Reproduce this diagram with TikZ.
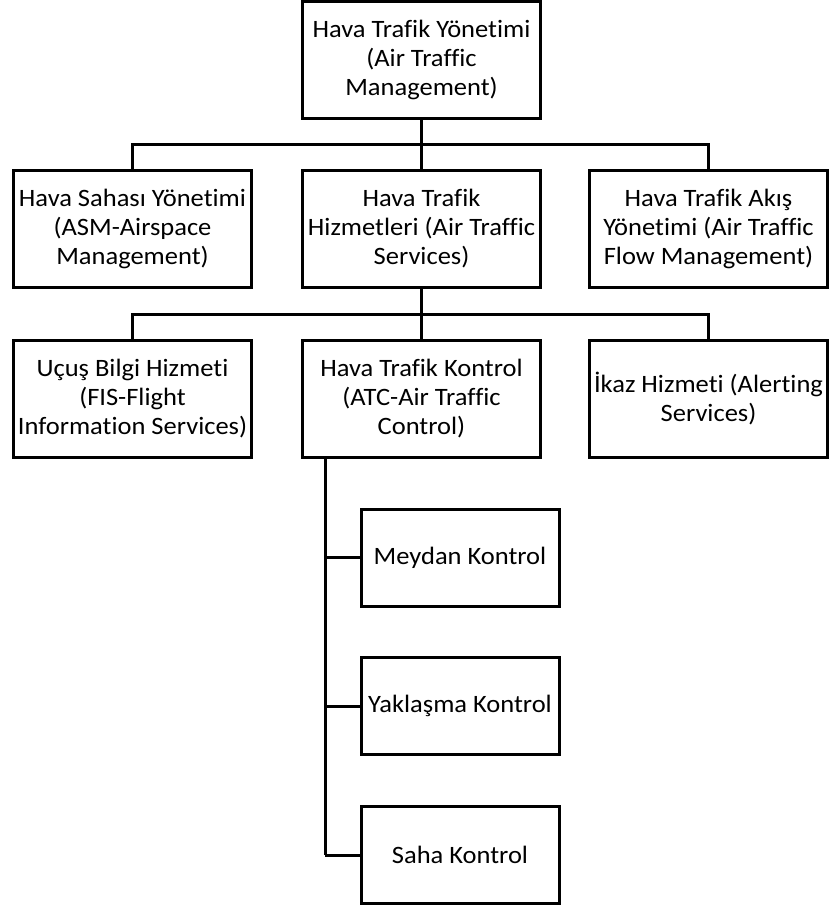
\documentclass[tikz,border=0pt]{standalone}
\usepackage{fontspec}
\setmainfont{Carlito}[FakeStretch=1.06,Ligatures=NoCommon]
\tikzset{
  unit/.style={draw, line width=3pt, align=center, minimum width=238pt, minimum height=117pt,
    inner sep=0pt, font=\fontsize{25}{29}\selectfont},
  subunit/.style={unit, minimum width=198pt, minimum height=97pt},
  link/.style={line width=3pt}
}
\begin{document}
\begin{tikzpicture}[x=1pt,y=-1pt]
\useasboundingbox (0,0) rectangle (829,906);
% top of the tree
\node[unit] (atm) at (421.5,60) {Hava Trafik Yönetimi\\(Air Traffic\\Management)};
% second row
\node[unit] (asm) at (132.5,229) {Hava Sahası Yönetimi\\(ASM-Airspace\\Management)};
\node[unit] (ats) at (421.5,229) {Hava Trafik\\Hizmetleri (Air Traffic\\Services)};
\node[unit] (atfm) at (708.5,229) {Hava Trafik Akış\\Yönetimi (Air Traffic\\Flow Management)};
% third row
\node[unit] (fis) at (132.5,398.5) {Uçuş Bilgi Hizmeti\\(FIS-Flight\\Information Services)};
\node[unit] (atc) at (421.5,398.5) {Hava Trafik Kontrol\\(ATC-Air Traffic\\Control)};
\node[unit] (alrt) at (708.5,398.5) {İkaz Hizmeti (Alerting\\Services)};
% units under ATC
\node[subunit] (twr) at (460,557.5) {Meydan Kontrol};
\node[subunit] (app) at (460,706) {Yaklaşma Kontrol};
\node[subunit] (acc) at (460,855) {Saha Kontrol};
% connectors
\coordinate (bar1) at (421.5,144);
\coordinate (bar2) at (421.5,314);
\coordinate (trunk) at (325,855);
\draw[link] (asm.north) |- (bar1) -| (atfm.north);
\draw[link] (atm.south) -- (ats.north);
\draw[link] (fis.north) |- (bar2) -| (alrt.north);
\draw[link] (ats.south) -- (atc.north);
\draw[link] (atc.south -| trunk) -- (trunk);
\foreach \n in {twr,app,acc} % branches to the ATC units
\draw[link] (\n.west -| trunk) -- (\n.west);
\end{tikzpicture}
\end{document}
